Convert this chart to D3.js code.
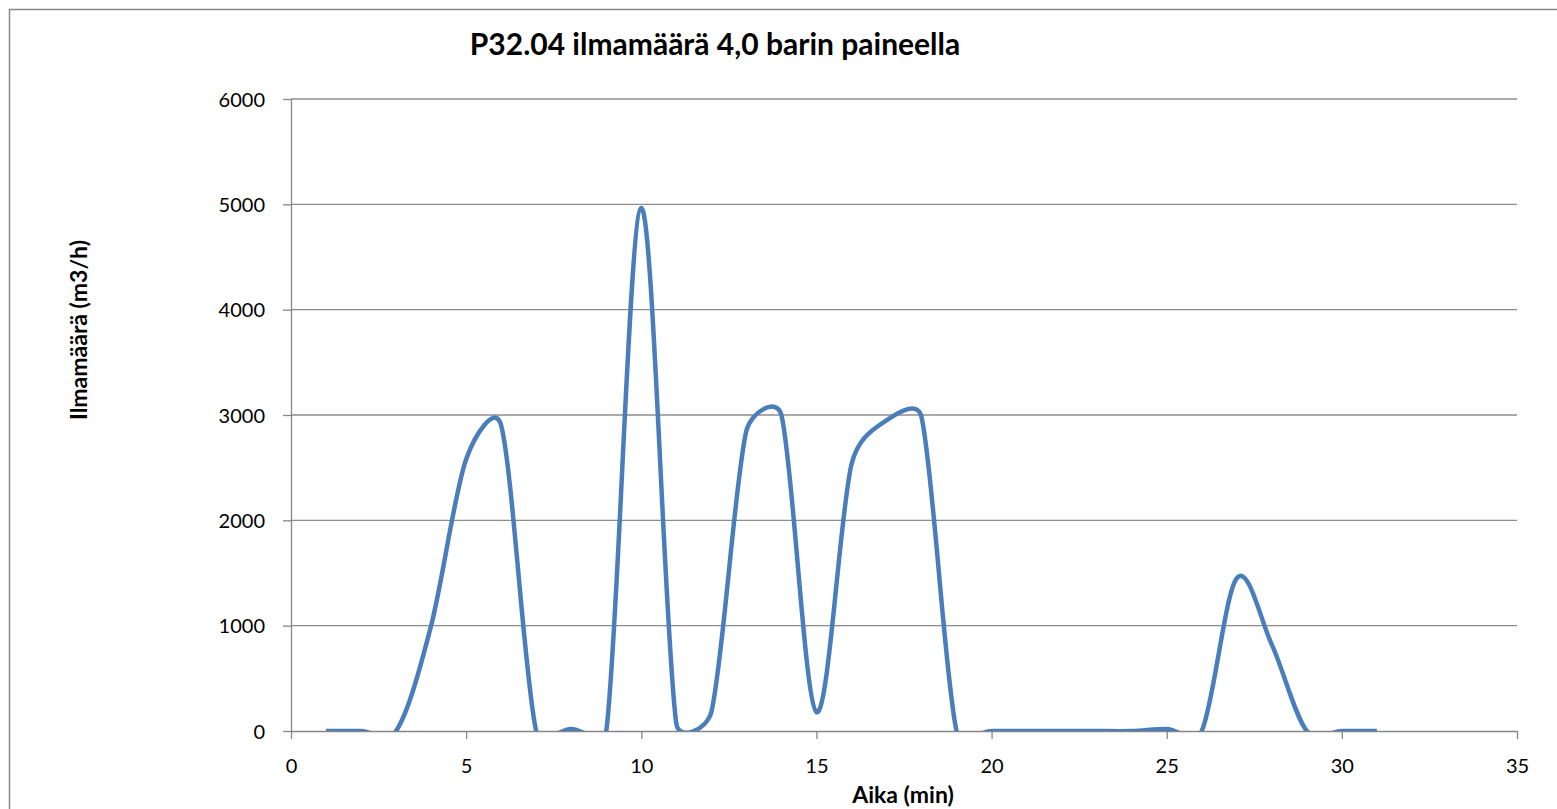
<!DOCTYPE html>
<html>
<head>
<meta charset="utf-8">
<script src="https://cdn.jsdelivr.net/npm/d3@7"></script>
<style>
  body { margin: 0; background: #fff; }
  svg { display: block; }
  .axis path, .axis line { stroke: #868686; stroke-width: 1.3; }
  .grid line { stroke: #8c8c8c; stroke-width: 1.3; }
</style>
</head>
<body>
<svg></svg>
<script>
// minutes and air volume
const minutes = [1, 2, 3, 4, 5, 6, 7, 8, 9, 10, 11, 12, 13, 14, 15, 16,
  17, 18, 19, 20, 21, 22, 23, 24, 25, 26, 27, 28, 29, 30, 31];
const airVolume = [0, 0, 0, 1000, 2580, 2900, 0, 20, 0, 4965, 70, 180, 2850, 3000, 180, 2530,
  2950, 2980, 0, 0, 0, 0, 0, 0, 20, 0, 1450, 820, 0, 0, 0];
const xTicks = [0, 5, 10, 15, 20, 25, 30, 35];
const yTicks = [0, 1000, 2000, 3000, 4000, 5000, 6000];

const chartTitle = 'P32.04 ilmamäärä 4,0 barin paineella';
const xTitle = 'Aika (min)';
const yTitle = 'Ilmamäärä (m3/h)';

const data = minutes.map((m, i) => ({ min: m, value: airVolume[i] }));

const W = 1557, H = 809;
const margin = { top: 99, right: 40, bottom: 78, left: 291 };
const width = W - margin.left - margin.right;
const height = H - margin.top - margin.bottom;
const font = 'Lato, Calibri, "Open Sans", sans-serif';

// spreadsheet style smoothing: bezier with (p[i+1]-p[i-1])/6 handles,
// shortened to half the segment length when they would be longer
function SmoothCurve(context) { this._context = context; }
SmoothCurve.prototype = {
  areaStart() {}, areaEnd() {},
  lineStart() { this._pts = []; },
  point(px, py) { this._pts.push([+px, +py]); },
  lineEnd() {
    const p = this._pts, ctx = this._context;
    if (!p.length) return;
    const dist = (a, b) => Math.hypot(b[0] - a[0], b[1] - a[1]);
    ctx.moveTo(p[0][0], p[0][1]);
    for (let i = 0; i < p.length - 1; i++) {
      const p0 = p[i - 1] || p[i], p1 = p[i], p2 = p[i + 1], p3 = p[i + 2] || p[i + 1];
      const d12 = dist(p1, p2), d02 = dist(p0, p2), d13 = dist(p1, p3);
      let f1 = 1 / 6, f2 = 1 / 6;
      if (d02 / 6 > d12 / 2) f1 = d12 / (2 * d02);
      if (d13 / 6 > d12 / 2) f2 = d12 / (2 * d13);
      ctx.bezierCurveTo(
        p1[0] + (p2[0] - p0[0]) * f1, p1[1] + (p2[1] - p0[1]) * f1,
        p2[0] - (p3[0] - p1[0]) * f2, p2[1] - (p3[1] - p1[1]) * f2,
        p2[0], p2[1]);
    }
  }
};
const curveSmooth = context => new SmoothCurve(context);

const x = d3.scaleLinear().
  domain([0, 35]).
  range([0, width]);

const y = d3.scaleLinear().
  domain([0, 6000]).
  range([height, 0]);

const svg = d3.select('svg').
  attr('width', W).
  attr('height', H).
  attr('font-family', font);

// outer chart frame (only left and top edges show in the picture)
svg.append('rect').
  attr('x', 9.5).
  attr('y', 9.5).
  attr('width', W + 20).
  attr('height', H + 20).
  attr('fill', 'none').
  attr('stroke', '#878787').
  attr('stroke-width', 1.5);

svg.append('defs').
  append('clipPath').
  attr('id', 'plot-clip').
  append('rect').
  attr('x', 0).
  attr('y', -10).
  attr('width', width).
  attr('height', height + 10);

const g = svg.append('g').
  attr('transform', `translate(${margin.left}, ${margin.top})`);

// horizontal gridlines
g.append('g').
  attr('class', 'grid').
  selectAll('line').
  data(yTicks.filter(d => d > 0)).
  enter().append('line').
  attr('x1', 0).
  attr('x2', width).
  attr('y1', d => y(d)).
  attr('y2', d => y(d));

const xAxis = d3.axisBottom(x).
  tickValues(xTicks).
  tickFormat(d3.format('d')).
  tickSize(8).
  tickSizeOuter(0);

const yAxis = d3.axisLeft(y).
  tickValues(yTicks).
  tickFormat(d3.format('d')).
  tickSize(8).
  tickSizeOuter(0);

g.append('g').
  attr('class', 'axis y').
  call(yAxis).
  selectAll('text').
  attr('x', -26).
  attr('dy', '0.36em').
  attr('font-size', 20).
  attr('font-family', font).
  attr('fill', '#000');

g.append('g').
  attr('class', 'axis x').
  attr('transform', `translate(0, ${height})`).
  call(xAxis).
  selectAll('text').
  attr('y', 42).
  attr('dy', 0).
  attr('font-size', 20).
  attr('font-family', font).
  attr('fill', '#000');

g.selectAll('.domain').attr('stroke', '#868686');

const line = d3.line().
  x(d => x(d.min)).
  y(d => y(d.value)).
  curve(curveSmooth);

g.append('path').
  datum(data).
  attr('clip-path', 'url(#plot-clip)').
  attr('fill', 'none').
  attr('stroke', '#4a7ebb').
  attr('stroke-width', 4.5).
  attr('stroke-linejoin', 'round').
  attr('d', line);

// titles
svg.append('text').
  text(chartTitle).
  attr('x', 715).
  attr('y', 55).
  attr('text-anchor', 'middle').
  attr('font-size', 30).
  attr('font-weight', 'bold');

svg.append('text').
  text(xTitle).
  attr('x', 903).
  attr('y', 803).
  attr('text-anchor', 'middle').
  attr('font-size', 23).
  attr('font-weight', 'bold');

svg.append('text').
  text(yTitle).
  attr('transform', `translate(87, 330) rotate(-90)`).
  attr('text-anchor', 'middle').
  attr('font-size', 23).
  attr('font-weight', 'bold');
</script>
</body>
</html>
